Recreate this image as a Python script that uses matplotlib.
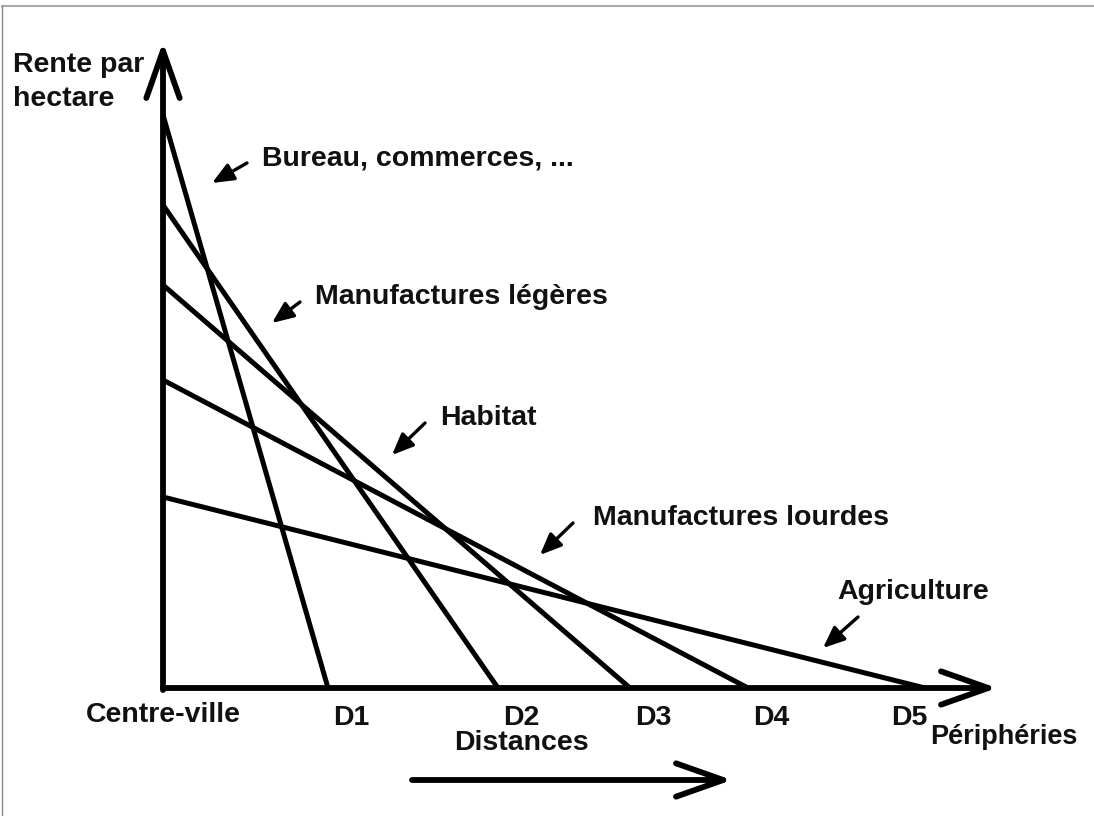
# Courbes de rente foncière (modèle d'Alonso), redessinées avec matplotlib.

import matplotlib.pyplot as plt
from matplotlib.lines import Line2D

plt.rcParams['font.family'] = ['Liberation Sans', 'DejaVu Sans']

# Usages du sol : rente au centre-ville et distance où la rente tombe à zéro
usages = ['Bureau, commerces, ...', 'Manufactures légères', 'Habitat',
          'Manufactures lourdes', 'Agriculture']
rente_centre = [5.73, 4.83, 4.03, 3.08, 1.91]
distance_max = [1.65, 3.35, 4.67, 5.85, 7.62]
etiquettes_d = ['D1', 'D2', 'D3', 'D4', 'D5']

# position des étiquettes (texte) et pointe des petites flèches
pos_texte = [(0.99, 5.30), (1.52, 3.91), (2.77, 2.70), (4.30, 1.70), (6.74, 0.96)]
pointe = [(0.49, 5.05), (1.09, 3.65), (2.29, 2.33), (3.77, 1.33), (6.60, 0.40)]

fig = plt.figure(figsize=(10.94, 8.16), dpi=100)
ax = fig.add_axes([163 / 1094, 128 / 816, 931 / 1094, 688 / 816])
ax.set_xlim(0, 9.31)
ax.set_ylim(0, 6.88)
ax.axis('off')

# les droites de rente
for r, d in zip(rente_centre, distance_max):
    ax.plot([0, d], [r, 0], color='black', lw=3.6, solid_capstyle='butt')

# axes avec flèches ouvertes
fleche = dict(arrowstyle='->,head_length=34,head_width=12', mutation_scale=1,
              lw=4.2, color='black', shrinkA=0, shrinkB=0)
ax.annotate('', xy=(8.34, 0), xytext=(0, 0), arrowprops=fleche, annotation_clip=False)
ax.annotate('', xy=(0, 6.46), xytext=(0, -0.02), arrowprops=fleche, annotation_clip=False)
ax.annotate('', xy=(5.69, -0.92), xytext=(2.49, -0.92), arrowprops=fleche,
            annotation_clip=False)

style = dict(fontsize=20.5, fontweight='bold', color='#111111')

# étiquettes des usages avec petites flèches pleines
for nom, (tx, ty), (px, py) in zip(usages, pos_texte, pointe):
    ax.text(tx, ty, nom, ha='left', va='center', **style)
    if nom == 'Agriculture':
        queue = (tx + 0.21, ty - 0.25)
    else:
        queue = (tx - 0.15 - (0.05 if nom == 'Manufactures lourdes' else 0), ty - 0.05)
    ax.annotate('', xy=(px, py), xytext=queue, annotation_clip=False,
                arrowprops=dict(arrowstyle='-|>,head_length=13,head_width=5.5',
                                mutation_scale=1, lw=2.4, color='black',
                                shrinkA=0, shrinkB=0))

# repères de distance
for lab, d in zip(etiquettes_d, distance_max):
    ax.text(d + 0.05 if lab != 'D5' else d - 0.34, -0.30, lab, ha='left', va='center', **style)

ax.text(0, -0.27, 'Centre-ville', ha='center', va='center', **style)
ax.text(3.58, -0.55, 'Distances', ha='center', va='center', **style)
ax.text(7.67, -0.49, 'Périphéries', ha='left', va='center', fontsize=19.5,
        fontweight='bold', color='#111111')
ax.text(-1.50, 6.06, 'Rente par\nhectare', ha='left', va='center', linespacing=1.4, **style)

# cadre gris du dessin d'origine
fig.add_artist(Line2D([2 / 1094, 1], [1 - 6 / 816, 1 - 6 / 816], color='#aaaaaa', lw=1.5,
                      transform=fig.transFigure))
fig.add_artist(Line2D([2 / 1094, 2 / 1094], [0, 1 - 6 / 816], color='#888888', lw=1,
                      transform=fig.transFigure))

fig.savefig('out.png', dpi=100, facecolor='white')
